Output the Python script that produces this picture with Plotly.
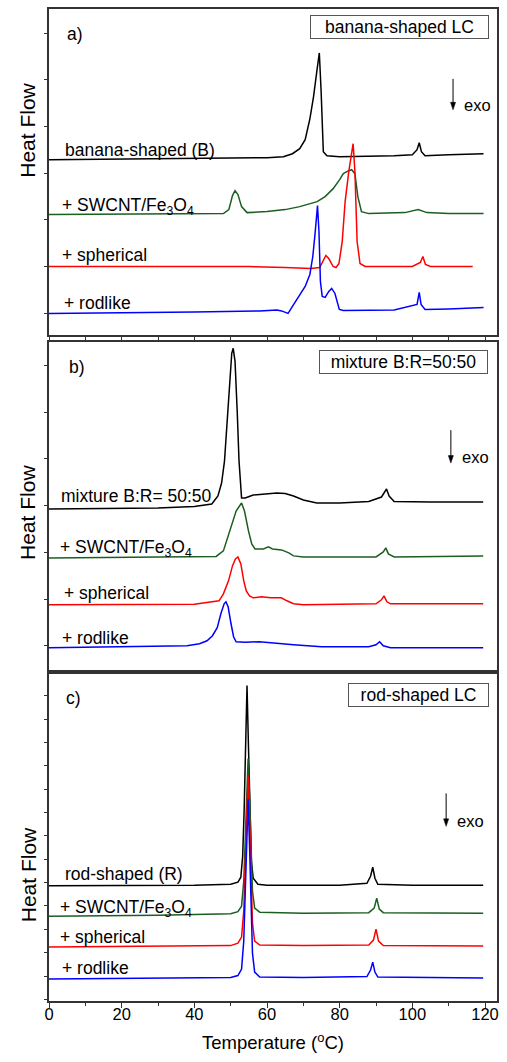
import plotly.graph_objects as go

# ---------------- data (temperature in °C, heat flow in arbitrary offset units) -------------
# Panel a) banana-shaped LC
a_B_T = [0, 20, 40, 55, 60, 64.5, 67, 69, 70.5, 71.8, 72.8, 73.8, 74.4, 74.9, 75.5, 76.5, 80, 95, 100,
         101.3, 101.9, 102.5, 103.5, 110, 119.6]
a_B_H = [17.6, 17.65, 17.7, 17.8, 17.8, 17.9, 18.2, 18.7, 19.6, 21.7, 23.9, 26.7, 28.3, 24.4, 18.4, 18.0,
         17.9, 18.0, 18.1, 18.6, 19.3, 18.4, 18.0, 18.1, 18.2]
a_S_T = [0, 40, 48, 49.5, 50.5, 51.2, 52, 53, 54.5, 60, 65, 69, 73.8, 76, 78.2, 80, 81, 82.5, 83.3, 84.2,
         85, 86, 88, 98, 101.6, 104, 110, 119.6]
a_S_H = [12.1, 12.15, 12.2, 12.6, 14.0, 14.5, 14.1, 12.9, 12.3, 12.4, 12.6, 12.9, 13.4, 13.9, 14.7, 15.6,
         16.2, 16.5, 16.6, 16.2, 13.9, 12.4, 12.2, 12.3, 12.6, 12.3, 12.2, 12.2]
a_P_T = [0, 40, 50, 55, 65, 72, 74.5, 75.5, 76.2, 77, 78.2, 79, 79.8, 80.7, 81.5, 82.5, 83.3, 83.7, 84.2,
         84.8, 85.6, 87, 100, 102.2, 102.9, 103.6, 105, 116.6]
a_P_H = [6.9, 6.9, 6.95, 6.9, 6.8, 6.7, 6.8, 7.5, 8.0, 7.7, 6.9, 6.8, 7.2, 9.4, 13.4, 16.4, 18.4, 19.2,
         16.4, 9.4, 7.2, 6.9, 6.9, 7.3, 7.9, 7.1, 6.9, 6.9]
a_R_T = [0, 20, 40, 58, 61, 62.7, 64, 65.8, 67, 69, 70.5, 71.8, 72.6, 73.2, 73.6, 73.9, 74.3, 74.7, 75.2,
         76, 77, 77.8, 78.7, 79.9, 81, 95, 101.3, 101.9, 102.4, 103.5, 110, 119.6]
a_R_H = [2.2, 2.25, 2.35, 2.45, 2.5, 2.55, 2.45, 2.2, 2.9, 4.1, 4.9, 6.1, 7.9, 10.1, 11.9, 13.0, 10.4, 5.4,
         3.9, 3.8, 4.4, 4.7, 4.2, 2.6, 2.5, 2.55, 3.1, 4.3, 3.1, 2.6, 2.65, 2.8]

# Panel b) mixture B:R = 50:50
b_B_T = [0, 30, 40, 44.8, 46.5, 47.5, 48.3, 48.9, 49.7, 50.3, 50.7, 51.2, 51.8, 52.3, 53, 54, 56.2, 60,
         62.7, 65, 67.3, 70, 73.7, 80, 88, 91.5, 92.9, 93.6, 95, 105, 119.5]
b_B_H = [16.1, 16.2, 16.35, 16.6, 17.4, 18.7, 20.9, 23.9, 28.9, 31.7, 32.2, 30.9, 25.9, 20.9, 17.2, 17.2,
         17.5, 17.6, 17.7, 17.65, 17.4, 17.0, 16.7, 16.7, 16.85, 17.3, 18.1, 17.4, 16.85, 16.8, 16.8]
b_S_T = [0, 40, 46, 48, 49.8, 51.5, 53, 53.8, 54.9, 55.8, 56.7, 59, 60.4, 61.5, 64, 66, 67.3, 70, 90, 92,
         92.7, 93.4, 95, 119.5]
b_S_H = [11.2, 11.3, 11.35, 11.9, 13.9, 15.9, 16.7, 15.9, 13.9, 12.6, 12.1, 12.1, 12.3, 12.1, 12.0, 11.7,
         11.4, 11.3, 11.3, 11.8, 12.2, 11.6, 11.3, 11.4]
b_P_T = [0, 40, 46.8, 48, 49.4, 50.5, 51.3, 52, 52.8, 53.6, 54.3, 55.2, 56.2, 58.5, 61, 63.9, 65.5, 67.3,
         70, 90, 91.5, 92.2, 93, 94, 119.5]
b_P_H = [6.5, 6.55, 6.9, 7.6, 8.9, 10.4, 11.1, 11.3, 10.6, 8.9, 7.9, 7.4, 7.2, 7.3, 7.2, 7.2, 6.9, 6.6,
         6.5, 6.6, 7.0, 7.4, 6.8, 6.6, 6.6]
b_R_T = [0, 30, 38, 41.4, 43.5, 45, 46.3, 47.3, 48.2, 48.7, 49.3, 50.1, 50.8, 51.5, 54, 57.9, 62, 67.3,
         75, 88, 90, 91, 92, 94, 119.5]
b_R_H = [2.2, 2.3, 2.4, 2.6, 2.9, 3.4, 4.2, 5.6, 6.6, 6.8, 6.3, 4.6, 3.3, 2.8, 2.75, 2.8, 2.7, 2.5, 2.3,
         2.3, 2.5, 2.8, 2.4, 2.2, 2.2]

# Panel c) rod-shaped LC
c_B_T = [0, 40, 50, 52, 52.8, 53.3, 53.7, 54.1, 54.5, 54.9, 55.3, 55.7, 56.2, 57.5, 60, 80, 87.5, 88.5,
         89.1, 89.7, 90.5, 100, 119.5]
c_B_H = [11.55, 11.6, 11.7, 11.9, 12.4, 14.5, 19.0, 25.5, 31.6, 25.5, 19.0, 14.0, 12.3, 11.7, 11.6, 11.6,
         11.8, 12.5, 13.4, 12.3, 11.7, 11.6, 11.6]
c_S_T = [0, 30, 50, 52, 53, 53.6, 54.0, 54.4, 54.8, 55.2, 55.6, 56.0, 56.6, 58, 70, 88, 89.5, 90.2, 90.9,
         92, 119.5]
c_S_H = [8.5, 8.6, 8.75, 8.95, 9.5, 12.0, 16.0, 20.5, 24.3, 20.5, 15.5, 11.0, 9.3, 8.9, 8.8, 8.85, 9.3,
         10.3, 9.2, 8.85, 8.8]
c_P_T = [0, 30, 50, 52, 53, 53.6, 54.0, 54.4, 54.8, 55.2, 55.6, 56.0, 56.6, 58, 70, 88, 89.3, 90.0, 90.7,
         92, 119.5]
c_P_H = [5.4, 5.45, 5.55, 5.8, 6.4, 9.0, 13.5, 18.5, 22.6, 18.0, 12.0, 7.8, 6.0, 5.6, 5.55, 5.6, 6.1, 7.2,
         6.0, 5.55, 5.5]
c_R_T = [0, 30, 50, 52, 53, 53.6, 54.0, 54.4, 54.8, 55.2, 55.6, 56.0, 56.6, 58, 70, 87.5, 88.5, 89.1,
         89.7, 90.5, 119.5]
c_R_H = [2.2, 2.25, 2.35, 2.55, 3.2, 6.0, 10.5, 15.8, 20.2, 15.5, 9.5, 4.8, 2.9, 2.4, 2.35, 2.45, 3.1,
         3.9, 2.9, 2.4, 2.3]

x_ticks = [0, 20, 40, 60, 80, 100, 120]

BLACK = "#000000"
GREEN = "#1b5e20"
RED = "#ff0000"
BLUE = "#0000ff"
FONT = "Liberation Sans, Arial, sans-serif"
LBL = 17.5

fig = go.Figure()

panels = [
    ("x3", "y3", [(a_B_T, a_B_H, BLACK), (a_S_T, a_S_H, GREEN), (a_P_T, a_P_H, RED), (a_R_T, a_R_H, BLUE)]),
    ("x2", "y2", [(b_B_T, b_B_H, BLACK), (b_S_T, b_S_H, GREEN), (b_P_T, b_P_H, RED), (b_R_T, b_R_H, BLUE)]),
    ("x", "y", [(c_B_T, c_B_H, BLACK), (c_S_T, c_S_H, GREEN), (c_P_T, c_P_H, RED), (c_R_T, c_R_H, BLUE)]),
]
for xa, ya, curves in panels:
    for T, H, col in curves:
        fig.add_trace(go.Scatter(x=T, y=H, mode="lines", xaxis=xa, yaxis=ya,
                                 line=dict(color=col, width=1.5), showlegend=False,
                                 hoverinfo="skip"))

frame = dict(showline=True, linecolor="#333333", linewidth=1.5, mirror=True, zeroline=False,
             showgrid=False)
XR = [0, 123.3]

fig.update_layout(
    width=507, height=1062,
    margin=dict(l=49, r=10, t=7, b=61),
    plot_bgcolor="white", paper_bgcolor="white",
    font=dict(family=FONT, size=16, color="black"),
    xaxis=dict(range=XR, anchor="y", tickmode="array", tickvals=x_ticks, ticks="outside", ticklen=5,
               tickcolor="#333333", tickfont=dict(size=16.5), ticklabelstandoff=-8,
               minor=dict(dtick=10, tick0=0, ticks="outside", ticklen=3, tickcolor="#333333"),
               title=dict(text="Temperature (<sup>o</sup>C)", font=dict(size=18.5), standoff=15), **frame),
    xaxis2=dict(range=XR, anchor="y2", ticks="", showticklabels=False, **frame),
    xaxis3=dict(range=XR, anchor="y3", dtick=10, tick0=0, ticks="outside", ticklen=3,
                tickcolor="#333333", showticklabels=False, **frame),
    yaxis=dict(domain=[0, 0.330], range=[0, 32.8], tick0=2.5, dtick=2.34, ticks="outside", ticklen=3,
               tickcolor="#333333", showticklabels=False, **frame),
    yaxis2=dict(domain=[0.334, 0.664], range=[0, 32.8], tick0=2.4, dtick=4.68, ticks="outside",
                ticklen=3, tickcolor="#333333", showticklabels=False, **frame),
    yaxis3=dict(domain=[0.671, 1.0], range=[0, 32.7], tick0=2.2, dtick=4.68, ticks="outside",
                ticklen=3, tickcolor="#333333", showticklabels=False, **frame),
)

ann = []


def label(xr, yr, x, y, text, size=LBL, xanchor="left"):
    ann.append(dict(xref=xr, yref=yr, x=x, y=y, text=text, showarrow=False, xanchor=xanchor,
                    yanchor="middle", font=dict(size=size, color="black")))


SW = "+ SWCNT/Fe<sub>3</sub>O<sub>4</sub>"
# panel a
label("x3", "y3", 3.9, 18.6, "banana-shaped (B)")
label("x3", "y3", 3.0, 12.9, SW)
label("x3", "y3", 3.0, 8.1, "+ spherical")
label("x3", "y3", 3.6, 3.2, "+ rodlike")
label("x3", "y3", 4.4, 30.2, "a)")
label("x3", "y3", 113.7, 23.1, "exo", size=16.5)
# panel b
label("x2", "y2", 2.75, 17.4, "mixture B:R= 50:50")
label("x2", "y2", 2.5, 12.1, SW)
label("x2", "y2", 3.6, 7.7, "+ spherical")
label("x2", "y2", 3.0, 3.2, "+ rodlike")
label("x2", "y2", 5.0, 30.3, "b)")
label("x2", "y2", 113.1, 21.3, "exo", size=16.5)
# panel c
label("x", "y", 3.9, 12.7, "rod-shaped (R)")
label("x", "y", 2.5, 9.3, SW)
label("x", "y", 2.5, 6.4, "+ spherical")
label("x", "y", 3.0, 3.3, "+ rodlike")
label("x", "y", 4.1, 30.4, "c)")
label("x", "y", 111.7, 18.0, "exo", size=16.5)


def box(xr, yr, x, y, text, w):
    ann.append(dict(xref=xr, yref=yr, x=x, y=y, text=text, showarrow=False, xanchor="center",
                    yanchor="middle", font=dict(size=LBL, color="black"), bordercolor="#555555",
                    borderwidth=1, borderpad=1, width=w - 4, height=20, bgcolor="white"))


box("x3", "y3", 96.5, 30.85, "banana-shaped LC", 179)
box("x2", "y2", 97.6, 30.8, "mixture B:R=50:50", 169)
box("x", "y", 101.7, 30.7, "rod-shaped LC", 141)

# y titles
for py in (129, 512, 875):
    ann.append(dict(xref="paper", yref="paper", x=0, xshift=-21, y=(1001 - py) / 994, text="Heat Flow",
                    textangle=-90, showarrow=False, xanchor="center", yanchor="middle",
                    font=dict(size=21, color="black")))

# "exo" arrows drawn as shapes: a line and a small filled head
shapes = []
for xr, yr, x, y0, y1 in (("x3", "y3", 111.2, 25.7, 22.6), ("x2", "y2", 110.6, 24.0, 20.7),
                          ("x", "y", 109.3, 20.8, 17.5)):
    shapes.append(dict(type="line", xref=xr, yref=yr, x0=x, x1=x, y0=y0, y1=y1 + 0.5,
                       line=dict(color="black", width=1)))
    shapes.append(dict(type="path", xref=xr, yref=yr,
                       path=f"M {x - 0.7} {y1 + 0.75} L {x + 0.7} {y1 + 0.75} L {x} {y1} Z",
                       fillcolor="black", line=dict(color="black", width=0.5)))

fig.update_layout(annotations=ann, shapes=shapes)
fig.write_html("out.html", config={"displayModeBar": False},
               post_script="document.body.style.margin='0';")
